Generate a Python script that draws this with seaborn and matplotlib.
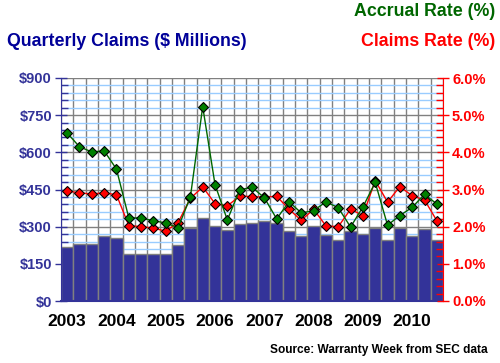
import numpy as np
import pandas as pd
import seaborn as sns
import matplotlib
matplotlib.use("Agg")
import matplotlib.pyplot as plt
from matplotlib.ticker import MultipleLocator, FixedLocator, FuncFormatter

# quarterly data, 2003 Q1 .. 2010 Q3
claims = [217, 229, 229, 262, 253, 188, 188, 188, 188, 226, 296, 334, 303, 285, 311, 315,
          322, 316, 281, 261, 301, 265, 247, 281, 269, 296, 247, 293, 264, 292, 247]
claims_rate = [2.96, 2.91, 2.88, 2.91, 2.86, 2.03, 2.00, 1.96, 1.88, 2.11, 2.76, 3.07, 2.62, 2.56, 2.82, 2.81,
               2.79, 2.82, 2.47, 2.17, 2.47, 2.02, 2.00, 2.47, 2.30, 3.24, 2.66, 3.08, 2.83, 2.72, 2.16]
accrual_rate = [4.52, 4.15, 4.01, 4.04, 3.55, 2.24, 2.23, 2.16, 2.10, 1.97, 2.80, 5.23, 3.13, 2.18, 2.99, 3.06,
                2.78, 2.21, 2.67, 2.37, 2.43, 2.67, 2.51, 1.99, 2.53, 3.19, 2.04, 2.30, 2.52, 2.87, 2.61]
years = ["2003", "2004", "2005", "2006", "2007", "2008", "2009", "2010"]

NAVY = "#333399"
TITLE_NAVY = "#000099"
RED = "#ff0000"
GREEN = "#006600"

sns.set_style("white")
plt.rcParams['font.family'] = ['Liberation Sans', 'DejaVu Sans']

df = pd.DataFrame({"q": np.arange(len(claims)), "claims": claims,
                   "claims_rate": claims_rate, "accrual_rate": accrual_rate})

fig = plt.figure(figsize=(5.0, 3.63), dpi=100)
ax = fig.add_axes([61/500, 1-301/363, 382/500, 223/363])

sns.barplot(data=df, x="q", y="claims", color=NAVY, saturation=1, width=1.0,
            edgecolor="#808080", linewidth=1, ax=ax)
ax.set_xlim(-0.5, len(claims)-0.5)
ax.set_ylim(0, 900)
ax.set_axisbelow(True)

# grid
ax.yaxis.set_major_locator(MultipleLocator(150))
ax.yaxis.set_minor_locator(MultipleLocator(30))
ax.yaxis.set_major_formatter(FuncFormatter(lambda v, p: "$%d" % v))
ax.grid(which="minor", axis="y", color="#99ccff", lw=1)
ax.grid(which="major", axis="y", color="#808080", lw=1)
ax.xaxis.set_major_locator(FixedLocator(np.arange(0, len(claims), 4)))
ax.xaxis.set_minor_locator(FixedLocator(np.arange(-0.5, len(claims), 1)))
ax.grid(which="minor", axis="x", color="#808080", lw=1)
ax.set_xticklabels(years, fontsize=12.5, fontweight="bold", color="black")
ax.tick_params(axis="x", which="major", length=0, pad=9)
ax.tick_params(axis="x", which="minor", length=5, direction="out", color="black", width=1)
ax.tick_params(axis="y", which="major", direction="inout", length=9, color=NAVY, width=1,
               labelsize=10.5, labelcolor=NAVY, pad=2)
ax.tick_params(axis="y", which="minor", direction="in", length=5, color=NAVY, width=1)
for lab in ax.get_yticklabels():
    lab.set_fontweight("bold")
ax.set_xlabel("")
ax.set_ylabel("")
for s in ["top", "right"]:
    ax.spines[s].set_visible(False)
ax.spines["left"].set_color(NAVY)
ax.spines["bottom"].set_color(NAVY)
ax.spines["bottom"].set_linewidth(1.5)

ax2 = ax.twinx()
sns.lineplot(data=df, x="q", y="claims_rate", color=RED, lw=1, marker="D", markersize=5.5,
             markerfacecolor=RED, markeredgecolor="black", markeredgewidth=0.8, ax=ax2)
sns.lineplot(data=df, x="q", y="accrual_rate", color=GREEN, lw=1, marker="D", markersize=5.5,
             markerfacecolor="#008000", markeredgecolor="black", markeredgewidth=0.8, ax=ax2)
ax2.set_ylim(0, 6)
ax2.set_xlim(-0.5, len(claims)-0.5)
ax2.yaxis.set_major_locator(MultipleLocator(1))
ax2.yaxis.set_minor_locator(MultipleLocator(0.2))
ax2.yaxis.set_major_formatter(FuncFormatter(lambda v, p: "%.1f%%" % v))
ax2.tick_params(axis="y", which="major", direction="inout", length=9, color=RED, width=1,
                labelsize=10.5, labelcolor=RED, pad=2)
ax2.tick_params(axis="y", which="minor", direction="in", length=5, color=RED, width=1)
for lab in ax2.get_yticklabels():
    lab.set_fontweight("bold")
ax2.set_xlabel("")
ax2.set_ylabel("")
for s in ["top", "left", "bottom"]:
    ax2.spines[s].set_visible(False)
ax2.spines["right"].set_color(RED)

fig.text(7/500, 1-42/363, "Quarterly Claims ($ Millions)", color=TITLE_NAVY, fontsize=12.8,
         fontweight="bold", va="center", ha="left")
fig.text(495/500, 1-42/363, "Claims Rate (%)", color=RED, fontsize=12.8,
         fontweight="bold", va="center", ha="right")
fig.text(495/500, 1-12/363, "Accrual Rate (%)", color=GREEN, fontsize=12.8,
         fontweight="bold", va="center", ha="right")
fig.text(488/500, 1-350/363, "Source: Warranty Week from SEC data", color="black", fontsize=8.6,
         fontweight="bold", va="center", ha="right")

fig.savefig("out.png", dpi=100)
